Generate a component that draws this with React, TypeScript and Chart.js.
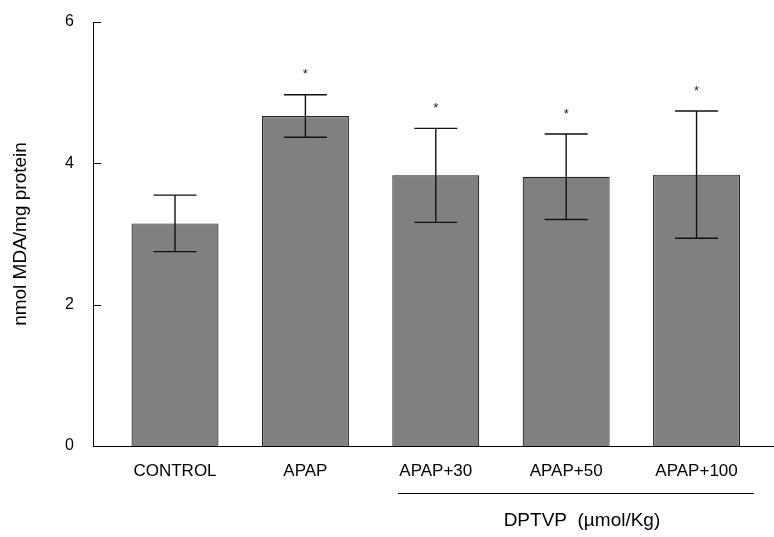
import React, { useEffect, useRef } from "react";
import { Chart, registerables } from "chart.js";

Chart.register(...registerables);

const categories = ["CONTROL", "APAP", "APAP+30", "APAP+50", "APAP+100"];
const means = [3.15, 4.67, 3.83, 3.81, 3.84];
const sds = [0.4, 0.3, 0.665, 0.605, 0.9];
const significant = [false, true, true, true, true];
const yTicks = [0, 2, 4, 6];
const yTitle = "nmol MDA/mg protein";
const groupLabel = "DPTVP  (µmol/Kg)";
const groupSpan = [1.71, 4.44];

const FONT = "'Liberation Sans', Arial, Helvetica, sans-serif";

const overlayPlugin = {
  id: "overlay",
  afterDatasetsDraw(chart: any) {
    const ctx = chart.ctx;
    const xs = chart.scales.x;
    const ys = chart.scales.y;
    const area = chart.chartArea;
    ctx.save();
    // inward y ticks
    ctx.strokeStyle = "#000";
    ctx.lineWidth = 1;
    yTicks.forEach((t) => {
      const py = Math.round(ys.getPixelForValue(t)) + 0.5;
      ctx.beginPath();
      ctx.moveTo(area.left, py);
      ctx.lineTo(area.left + 8, py);
      ctx.stroke();
    });
    // error bars
    ctx.strokeStyle = "#111";
    ctx.lineWidth = 1.4;
    means.forEach((m, i) => {
      const px = xs.getPixelForValue(i);
      const top = ys.getPixelForValue(m + sds[i]);
      const bot = ys.getPixelForValue(m - sds[i]);
      ctx.beginPath();
      ctx.moveTo(px, top);
      ctx.lineTo(px, bot);
      ctx.moveTo(px - 21.5, top);
      ctx.lineTo(px + 21.5, top);
      ctx.moveTo(px - 21.5, bot);
      ctx.lineTo(px + 21.5, bot);
      ctx.stroke();
      if (significant[i]) {
        ctx.fillStyle = "#222";
        ctx.font = `13px ${FONT}`;
        ctx.textAlign = "center";
        ctx.textBaseline = "middle";
        ctx.fillText("*", px, top - 20);
      }
    });
    // group bracket
    const x1 = xs.getPixelForValue(groupSpan[0]);
    const x2 = xs.getPixelForValue(groupSpan[1]);
    ctx.strokeStyle = "#000";
    ctx.lineWidth = 1;
    ctx.beginPath();
    ctx.moveTo(x1, 493.5);
    ctx.lineTo(x2, 493.5);
    ctx.stroke();
    ctx.fillStyle = "#000";
    ctx.font = `19px ${FONT}`;
    ctx.textAlign = "center";
    ctx.textBaseline = "middle";
    ctx.fillText(groupLabel, (x1 + x2) / 2 + 6, 521);
    ctx.restore();
  },
};

export default function App() {
  const ref = useRef<HTMLCanvasElement | null>(null);
  useEffect(() => {
    if (!ref.current) return;
    const chart = new Chart(ref.current, {
      type: "bar",
      data: {
        datasets: [
          {
            data: means.map((m, i) => ({ x: i, y: m })),
            backgroundColor: "#808080",
            borderColor: "#222",
            borderWidth: 1.2,
            barPercentage: 0.667,
            categoryPercentage: 1,
          },
        ],
      },
      options: {
        responsive: false,
        animation: false,
        layout: { padding: { top: 22, left: 0, right: 0, bottom: 0 } },
        plugins: { legend: { display: false }, tooltip: { enabled: false } },
        scales: {
          x: {
            type: "linear",
            offset: false,
            min: -0.629,
            max: 4.594,
            grid: { display: false, drawTicks: false, offset: false },
            border: { display: true, color: "#000", width: 1 },
            afterBuildTicks: (scale: any) => {
              scale.ticks = categories.map((_, i) => ({ value: i }));
            },
            afterFit: (scale: any) => {
              scale.height = 91;
              scale.paddingLeft = 0;
              scale.paddingRight = 0;
            },
            ticks: {
              autoSkip: false,
              maxRotation: 0,
              padding: 15,
              color: "#000",
              font: { family: FONT, size: 17 },
              callback: (v: any) => categories[v as number] ?? "",
            },
          },
          y: {
            min: 0,
            max: 6,
            grid: { display: false, drawTicks: false },
            border: { display: true, color: "#000", width: 1 },
            afterBuildTicks: (scale: any) => {
              scale.ticks = yTicks.map((v) => ({ value: v }));
            },
            afterFit: (scale: any) => {
              scale.width = 93;
              scale.paddingTop = 0;
              scale.paddingBottom = 0;
            },
            ticks: {
              padding: 19,
              color: "#000",
              font: { family: FONT, size: 16 },
            },
            title: {
              display: true,
              text: yTitle,
              color: "#000",
              font: { family: FONT, size: 19 },
              padding: { top: 9, bottom: 0 },
            },
          },
        },
      },
      plugins: [overlayPlugin],
    } as any);
    return () => chart.destroy();
  }, []);
  return (
    <div style={{ position: "absolute", left: 0, top: 0, width: 774, height: 537, background: "#fff" }}>
      <canvas ref={ref} width={774} height={537} style={{ width: 774, height: 537, display: "block" }} />
    </div>
  );
}
